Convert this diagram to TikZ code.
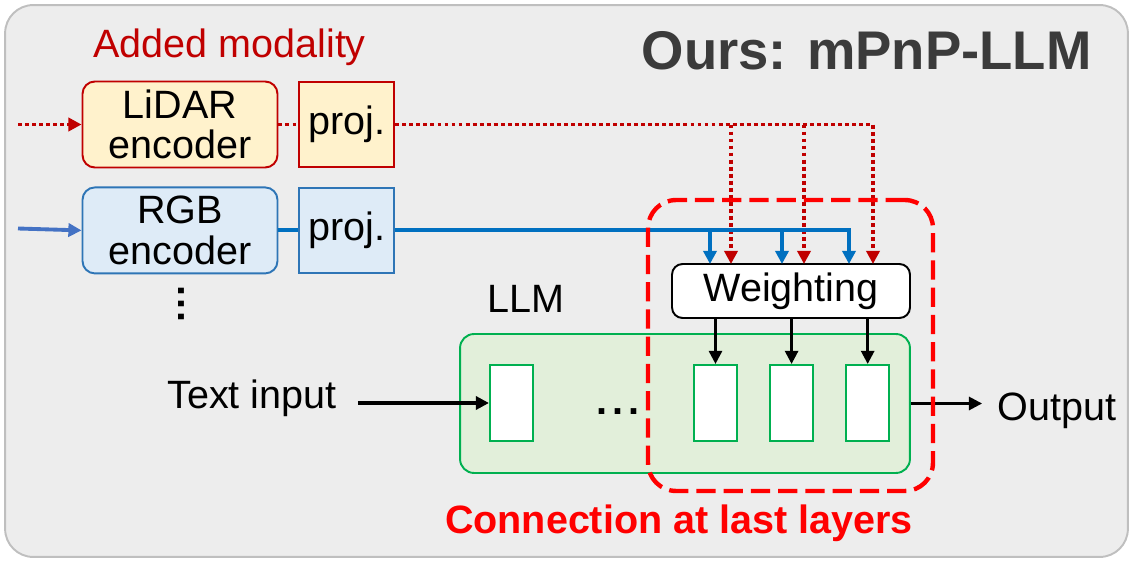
\documentclass[tikz,border=0pt]{standalone}
\usepackage{fontspec}
\setmainfont{Liberation Sans}
\usetikzlibrary{arrows.meta,positioning}

\definecolor{bggray}{HTML}{EDEDED}
\definecolor{bgborder}{HTML}{BFBFBF}
\definecolor{lidarred}{HTML}{C00000}
\definecolor{lidarfill}{HTML}{FFF2CC}
\definecolor{rgbblue}{HTML}{2E75B6}
\definecolor{rgbfill}{HTML}{DEEBF7}
\definecolor{rgbline}{HTML}{0070C0}
\definecolor{rgbin}{HTML}{4472C4}
\definecolor{llmgreen}{HTML}{00B050}
\definecolor{llmfill}{HTML}{E2EFDA}
\definecolor{titlegray}{HTML}{3B3B3B}
\definecolor{hotred}{HTML}{FF0000}

\begin{document}
\begin{tikzpicture}[x=0.02cm,y=-0.02cm,>={Triangle[length=7.5pt,width=7.5pt]},node distance=4mm,
    every node/.style={font=\fontsize{22.5}{23}\selectfont},
    enc/.style={rounded corners=7pt,line width=1.1pt,minimum width=3.9cm,minimum height=1.72cm,align=center,inner sep=0pt},
    projbox/.style={line width=1.1pt,minimum width=1.9cm,minimum height=1.7cm,inner sep=0pt},
    layer/.style={draw=llmgreen,fill=white,line width=1.2pt,minimum width=0.86cm,minimum height=1.52cm,inner sep=0pt},
    reddot/.style={draw=lidarred,line width=2.2pt,dash pattern=on 2.2pt off 1.8pt},
    blueline/.style={draw=rgbline,line width=2.2pt},
    lbl/.style={inner sep=0pt}]

    \useasboundingbox (0,0) rectangle (1134,561);

    % background panel
    \node[draw=bgborder,fill=bggray,line width=1.1pt,rounded corners=16pt,
          minimum width=22.46cm,minimum height=11.04cm] (frame) at (566.5,281) {};

    % titles
    \node[lbl,anchor=base east,text=titlegray,font=\fontsize{31}{31}\selectfont\bfseries] (title) at (1092,70) {Ours: mPnP-LLM};
    \node[lbl,anchor=base west,text=lidarred] (added) at (93,57) {Added modality};

    % the LLM and its layers
    \node[draw=llmgreen,fill=llmfill,line width=1.1pt,rounded corners=8pt,
          minimum width=9cm,minimum height=2.78cm] (llm) at (685,403.5) {};
    \node[lbl,anchor=base west] (llmlabel) at (487,312) {LLM};
    \node[layer] (l1) at (511.5,403) {};
    \node[layer] (l2) at (715.5,403) {};
    \node[layer] (l3) [right=0.62cm of l2] {};
    \node[layer] (l4) [right=0.62cm of l3] {};
    \node[font=\fontsize{22.5}{23}\selectfont\bfseries] (hdots) at (618,412) {.\kern3pt.\kern3pt.};

    % weighting block
    \node[draw,fill=white,line width=1.1pt,rounded corners=6pt,
          minimum width=4.76cm,minimum height=1.08cm] (weight) at (791,291) {Weighting};

    % encoders
    \node[enc,draw=lidarred,fill=lidarfill]             (lidar) at (180,124.5) {LiDAR\\encoder};
    \node[projbox,draw=lidarred,fill=lidarfill]         (lproj) [right=of lidar] {proj.};
    \node[enc,draw=rgbblue,fill=rgbfill]                (rgb)   [below=0.36cm of lidar] {RGB\\encoder};
    \node[projbox,draw=rgbblue,fill=rgbfill]            (rproj) [right=of rgb] {proj.};
    \node[rotate=-90,font=\fontsize{22.5}{23}\selectfont\bfseries] (vdots) at (181,304) {.\kern1.2pt.\kern1.2pt.};

    % inputs and output
    \node[lbl,anchor=base west] (txt) at (167,408) {Text input};
    \node[lbl,anchor=base west] (out) at (997,420) {Output};

    \coordinate (lidarin) at (18,124.5);
    \coordinate (rgbcin)  at (18,228.5);
    \coordinate (wb1) at (710,264);
    \coordinate (wr1) at (731,264);
    \coordinate (wb2) at (782,264);
    \coordinate (wr2) at (804,264);
    \coordinate (wb3) at (849,264);
    \coordinate (wr3) at (873,264);

    % modality streams
    \draw[reddot,->] (lidarin) -- (lidar.west);
    \draw[reddot] (lidar.east) -- (lproj.west);
    \draw[reddot,->] (lproj.east) -| (wr3);
    \draw[reddot,->] (lproj.east -| wr1) -- (wr1);
    \draw[reddot,->] (lproj.east -| wr2) -- (wr2);

    \draw[rgbin,line width=2.2pt,->] (rgbcin) -- (rgb.west);
    \draw[blueline] (rgb.east) -- (rproj.west);
    \draw[blueline,->] (rproj.east) -| (wb3);
    \draw[blueline,->] (rproj.east -| wb1) -- (wb1);
    \draw[blueline,->] (rproj.east -| wb2) -- (wb2);

    \draw[line width=1.5pt,->] (weight.south -| l2.north) -- (l2.north);
    \draw[line width=1.5pt,->] (weight.south -| l3.north) -- (l3.north);
    \draw[line width=1.5pt,->] (weight.south -| l4.north) -- (l4.north);

    \draw[line width=1.9pt,->,shorten <=12pt] (txt.east |- l1.west) -- (l1.west);
    \draw[line width=1.5pt,->,shorten >=8.5pt] (llm.east) -- (llm.east -| out.west);

    % connection region
    \node[draw=hotred,line width=2.5pt,dash pattern=on 11pt off 4.5pt,rounded corners=16pt,
          minimum width=5.7cm,minimum height=5.82cm] (last) at (790.5,345.5) {};
    \node[lbl,anchor=base,text=hotred,font=\fontsize{22.5}{23}\selectfont\bfseries] (conn) at (679,533) {Connection at last layers};

\end{tikzpicture}
\end{document}
